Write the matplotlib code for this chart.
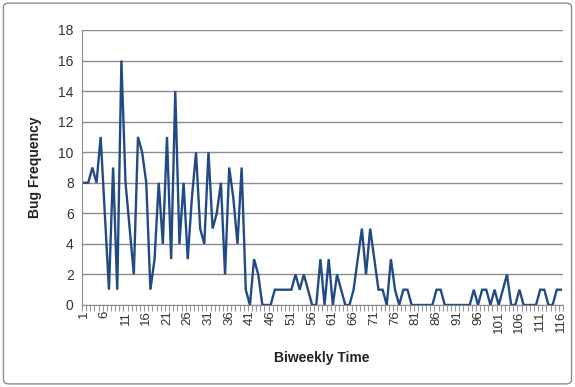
import numpy as np
import matplotlib.pyplot as plt
from matplotlib.patches import FancyBboxPatch

# Bug counts per biweekly period
periods = np.arange(1, 117)
bugs = [8, 8, 9, 8, 11, 6, 1, 9, 1, 16,
        8, 5, 2, 11, 10, 8, 1, 3, 8, 4,
        11, 3, 14, 4, 8, 3, 7, 10, 5, 4,
        10, 5, 6, 8, 2, 9, 7, 4, 9, 1,
        0, 3, 2, 0, 0, 0, 1, 1, 1, 1,
        1, 2, 1, 2, 1, 0, 0, 3, 0, 3,
        0, 2, 1, 0, 0, 1, 3, 5, 2, 5,
        3, 1, 1, 0, 3, 1, 0, 1, 1, 0,
        0, 0, 0, 0, 0, 1, 1, 0, 0, 0,
        0, 0, 0, 0, 1, 0, 1, 1, 0, 1,
        0, 1, 2, 0, 0, 1, 0, 0, 0, 0,
        1, 1, 0, 0, 1, 1]
xtick_pos = np.arange(1, 117, 5)
yticks = np.arange(0, 19, 2)

plt.rcParams['font.family'] = ['Liberation Sans', 'DejaVu Sans']

fig = plt.figure(figsize=(5.75, 3.87), dpi=100)
ax = fig.add_axes([0.1426, 0.2119, 0.8365, 0.7106])

ax.plot(periods, bugs, color='#234B83', lw=1.7, solid_joinstyle='miter')

ax.set_xlim(0.5, 116.5)
ax.set_ylim(0, 18)
ax.set_yticks(yticks)
ax.set_xticks(xtick_pos)
ax.set_xticklabels([str(v) for v in xtick_pos], rotation=90, fontsize=9.5, color='#333333')
ax.set_xticks(np.arange(0.5, 117, 1), minor=True)
ax.tick_params(axis='x', which='major', length=0, pad=4)
ax.tick_params(axis='x', which='minor', length=4, color='#999999', width=0.8, direction='out')
ax.tick_params(axis='y', length=0, labelsize=10, colors='#333333', pad=6)

ax.grid(axis='y', color='#8c8c8c', lw=1)
ax.set_axisbelow(True)
for s in ['top', 'right']:
    ax.spines[s].set_visible(False)
ax.spines['left'].set_color('#8c8c8c')
ax.spines['bottom'].set_color('#8c8c8c')

fig.text(0.061, 0.567, 'Bug Frequency', rotation=90, ha='center', va='center',
         fontsize=10, fontweight='bold', color='#222222')
fig.text(0.56, 0.075, 'Biweekly Time', ha='center', va='center',
         fontsize=10, fontweight='bold', color='#222222')

# chart-area border
fig.patches.append(FancyBboxPatch((0.006, 0.008), 0.988, 0.984, boxstyle='round,pad=0,rounding_size=0.01',
                                  transform=fig.transFigure, fill=False, edgecolor='#8c8c8c', lw=1))

fig.savefig('out.png', dpi=100)
